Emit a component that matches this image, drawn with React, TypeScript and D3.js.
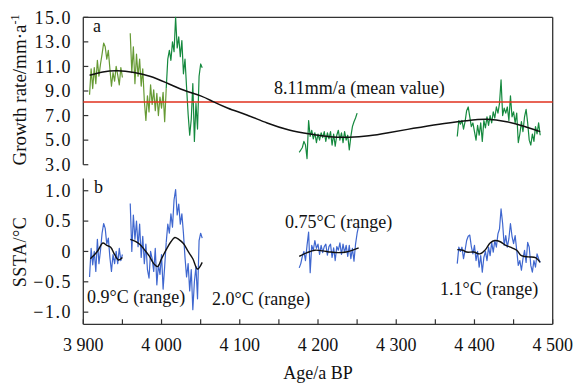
import React from "react";
import * as d3 from "d3";

// ---- data ----
const xTicks = [3900, 4000, 4100, 4200, 4300, 4400, 4500];
const xMinorTicks = [3950, 4050, 4150, 4250, 4350, 4450];
const growthTicks = [15, 13, 11, 9, 7, 5, 3];
const sstaTicks = [1.0, 0.5, 0, -0.5, -1.0];

const segStarts = [3908, 3960, 4006, 4176, 4378];
const segStep = 2;

const growth1 = [8.7, 10.8, 9.2, 10.9, 9.6, 11.5, 10.2, 11.2, 12.0, 12.9, 12.6, 11.6, 12.3, 10.8, 9.4, 10.5, 9.8, 11.0, 10.3, 9.5, 10.9, 10.1];
const growth2 = [13.7, 10.5, 12.6, 9.6, 12.0, 10.2, 11.6, 9.4, 10.8, 8.2, 6.6, 8.6, 7.3, 9.5, 7.9, 9.1, 7.4, 8.8, 7.0, 8.5, 7.6, 8.9, 6.5, 9.2];
const growth3 = [9.2, 11.6, 12.3, 11.5, 13.0, 12.2, 15.0, 12.5, 13.4, 11.8, 13.1, 10.4, 11.6, 9.3, 7.1, 5.4, 6.7, 9.6, 4.9, 8.0, 5.9, 10.2, 11.2, 10.9];
const growth4 = [4.0, 4.2, 4.4, 4.9, 4.6, 3.5, 6.6, 5.3, 5.8, 5.1, 5.6, 4.8, 5.5, 5.0, 5.6, 5.2, 5.7, 4.9, 5.6, 5.1, 5.7, 4.6, 5.5, 4.5, 5.4, 5.8, 5.0, 5.6, 4.8, 5.7, 5.0, 5.4, 4.2, 5.3, 6.1, 6.5, 6.8, 7.2];
const growth5 = [5.3, 6.6, 6.3, 6.6, 5.9, 6.5, 7.4, 7.7, 6.9, 6.1, 6.4, 5.7, 5.0, 6.2, 5.4, 6.4, 4.9, 6.6, 6.0, 6.9, 6.2, 7.0, 6.4, 7.3, 6.8, 7.7, 7.2, 8.0, 9.9, 7.0, 7.6, 7.2, 7.7, 6.6, 8.6, 6.9, 7.3, 6.4, 7.2, 4.8, 5.5, 6.5, 5.7, 6.9, 7.5, 6.4, 5.0, 4.6, 5.5, 4.9, 6.1, 5.5, 6.4, 5.4];

const ssta1 = [-0.42, 0.05, -0.22, 0.0, -0.33, 0.2, -0.2, 0.02, 0.3, 0.46, 0.38, 0.12, 0.22, -0.1, -0.33, -0.05, -0.2, 0.0, -0.2, 0.05, -0.15, -0.05];
const ssta2 = [0.79, 0.0, 0.6, 0.2, 0.5, 0.08, 0.45, -0.1, 0.25, -0.2, 0.12, -0.3, -0.44, 0.0, -0.12, -0.33, 0.05, -0.55, -0.22, -0.38, -0.05, -0.62, -0.25, 0.15];
const ssta3 = [0.15, 0.45, 0.3, 0.62, 0.4, 0.85, 1.02, 0.6, 0.78, 0.45, 0.62, 0.3, -0.1, -0.42, -0.2, -0.65, -0.3, -0.96, -0.5, -0.25, -0.78, 0.18, 0.3, 0.22];
const ssta4 = [-0.27, -0.2, -0.08, 0.0, -0.15, 0.1, 0.32, -0.35, 0.1, 0.02, 0.18, 0.05, 0.12, -0.05, 0.1, -0.02, 0.08, 0.12, -0.06, 0.08, 0.12, -0.1, 0.06, -0.15, 0.08, 0.02, 0.14, -0.05, 0.12, -0.02, 0.1, -0.08, 0.1, -0.12, 0.05, -0.16, 0.12, 0.3, 0.42];
const ssta5 = [-0.2, 0.07, 0.0, 0.07, -0.12, 0.02, 0.18, 0.25, 0.27, 0.08, -0.04, 0.1, -0.15, 0.0, -0.26, -0.07, -0.34, -0.1, 0.0, -0.15, 0.07, -0.07, 0.15, -0.01, 0.18, 0.07, 0.29, 0.37, 0.7, 0.46, 0.1, 0.26, 0.07, 0.21, 0.46, 0.25, 0.13, 0.26, 0.02, -0.23, -0.15, -0.31, -0.12, 0.02, -0.18, 0.15, 0.07, -0.23, -0.34, -0.15, -0.26, -0.04, -0.12, -0.18];

const growthTrendAges = [3908, 3925, 3944, 3965, 3985, 4005, 4028, 4050, 4066, 4085, 4109, 4135, 4163, 4190, 4215, 4240, 4265, 4290, 4322, 4355, 4390, 4416, 4441, 4462, 4484];
const growthTrendValues = [10.28, 10.55, 10.65, 10.5, 10.2, 9.7, 9.08, 8.6, 8.13, 7.6, 7.05, 6.4, 5.83, 5.5, 5.28, 5.23, 5.35, 5.6, 5.96, 6.3, 6.58, 6.7, 6.5, 6.15, 5.69];

const sstaTrend1Ages = [3909, 3914, 3919, 3925, 3930, 3935, 3940, 3945, 3950];
const sstaTrend1Values = [-0.12, -0.06, 0.02, 0.14, 0.1, 0.07, -0.05, -0.14, -0.1];
const sstaTrend2Ages = [3960, 3966, 3972, 3978, 3984, 3990, 3995, 4000, 4006, 4012, 4017, 4022, 4028, 4034, 4040, 4046, 4052];
const sstaTrend2Values = [0.2, 0.17, 0.12, 0.03, -0.07, -0.2, -0.25, -0.12, 0.03, 0.16, 0.23, 0.2, 0.13, 0.0, -0.12, -0.29, -0.18];
const sstaTrend3Ages = [4176, 4186, 4196, 4206, 4216, 4226, 4236, 4246, 4252];
const sstaTrend3Values = [-0.08, -0.02, 0.02, 0.01, -0.01, -0.02, -0.01, 0.03, 0.06];
const sstaTrend4Ages = [4378, 4385, 4390, 4399, 4407, 4414, 4420, 4426, 4433, 4440, 4446, 4454, 4460, 4469, 4478, 4484];
const sstaTrend4Values = [0.03, 0.02, -0.01, -0.01, -0.04, 0.03, 0.14, 0.18, 0.16, 0.1, 0.07, 0.02, -0.07, -0.09, -0.1, -0.18];

const meanGrowth = 8.11;

const growthSegs = [growth1, growth2, growth3, growth4, growth5];
const sstaSegs = [ssta1, ssta2, ssta3, ssta4, ssta5];
const OLIVE = "#669a34";
const GREEN = "#15893e";
const BLUE = "#3f67cf";
const growthColors = [OLIVE, OLIVE, GREEN, GREEN, GREEN];

// ---- layout ----
const W = 575;
const H = 385;
const left = 83.3;
const right = 552.7;
const top = 17.3;
const bottom = 324.3;
const FONT = "'Liberation Serif', 'Times New Roman', serif";
const AXIS = "#333";

export default function App() {
  const x = d3.scaleLinear().domain([3900, 4500]).range([left, right]);
  const yA = d3.scaleLinear().domain([3, 15]).range([164.7, top]);
  const yB = d3.scaleLinear().domain([-1.2, 1.2]).range([bottom, 178.6]);

  const segPoints = (seg: number[], i: number) =>
    seg.map((v, j) => [segStarts[i] + j * segStep, v] as [number, number]);

  const lineA = d3.line<[number, number]>().x((d) => x(d[0])).y((d) => yA(d[1]));
  const lineB = d3.line<[number, number]>().x((d) => x(d[0])).y((d) => yB(d[1]));
  const trendA = d3
    .line<[number, number]>()
    .x((d) => x(d[0]))
    .y((d) => yA(d[1]))
    .curve(d3.curveNatural);
  const trendB = d3
    .line<[number, number]>()
    .x((d) => x(d[0]))
    .y((d) => yB(d[1]))
    .curve(d3.curveCatmullRom);

  const zip = (a: number[], b: number[]) => a.map((v, i) => [v, b[i]] as [number, number]);
  const sstaTrends = [
    zip(sstaTrend1Ages, sstaTrend1Values),
    zip(sstaTrend2Ages, sstaTrend2Values),
    zip(sstaTrend3Ages, sstaTrend3Values),
    zip(sstaTrend4Ages, sstaTrend4Values),
  ];

  const textStyle = { fontFamily: FONT, fontSize: 18, fill: "#111" } as const;

  return (
    <svg
      width={W}
      height={H}
      style={{ position: "absolute", left: 0, top: 0, background: "#fff" }}
    >
      {/* frame */}
      <line x1={left} x2={right} y1={top} y2={top} stroke={AXIS} strokeWidth={1.3} />
      <line x1={right} x2={right} y1={top} y2={bottom} stroke={AXIS} strokeWidth={1.3} />
      <line x1={left} x2={right} y1={bottom} y2={bottom} stroke={AXIS} strokeWidth={1.3} />
      <line x1={left} x2={left} y1={top} y2={yA(3)} stroke={AXIS} strokeWidth={1.3} />
      <line x1={left} x2={left} y1={yB(1.2)} y2={bottom} stroke={AXIS} strokeWidth={1.3} />

      {/* y ticks panel a */}
      {growthTicks.map((t) => (
        <g key={"ga" + t}>
          <line x1={left} x2={left + 5} y1={yA(t)} y2={yA(t)} stroke={AXIS} strokeWidth={1.2} />
          <text x={72} y={yA(t)} dy="0.35em" textAnchor="end" style={{ ...textStyle, letterSpacing: 1.5 }}>
            {t.toFixed(1)}
          </text>
        </g>
      ))}
      {/* y ticks panel b */}
      {sstaTicks.map((t) => (
        <g key={"gb" + t}>
          <line x1={left} x2={left + 5} y1={yB(t)} y2={yB(t)} stroke={AXIS} strokeWidth={1.2} />
          <text x={72} y={yB(t)} dy="0.35em" textAnchor="end" style={{ ...textStyle, letterSpacing: 1.5 }}>
            {t === 0 ? "0" : t.toFixed(1).replace("-", "\u2212")}
          </text>
        </g>
      ))}
      {/* x ticks */}
      {xTicks.concat(xMinorTicks).map((t) => (
        <line key={"xt" + t} x1={x(t)} x2={x(t)} y1={bottom} y2={bottom - 5} stroke={AXIS} strokeWidth={1.2} />
      ))}
      {xTicks.map((t) => (
        <text key={"xl" + t} x={x(t)} y={351} textAnchor="middle" style={textStyle}>
          {d3.format(",")(t).replace(",", " ")}
        </text>
      ))}

      {/* axis titles */}
      <text x={318} y={379} textAnchor="middle" style={textStyle}>
        Age/a BP
      </text>
      <text
        transform={`translate(26,${90}) rotate(-90)`}
        textAnchor="middle"
        style={{ ...textStyle, fontSize: 19 }}
      >
        Growth rate/mm·a
        <tspan dy={-7} fontSize={12}>-1</tspan>
      </text>
      <text
        transform={`translate(26,${252}) rotate(-90)`}
        textAnchor="middle"
        style={{ ...textStyle, letterSpacing: 0.5 }}
      >
        SSTA/°C
      </text>

      {/* panel labels */}
      <text x={93} y={32} style={textStyle}>a</text>
      <text x={94} y={193} style={textStyle}>b</text>

      {/* panel a data */}
      {growthSegs.map((seg, i) => (
        <path
          key={"ga-seg" + i}
          d={lineA(segPoints(seg, i)) || ""}
          fill="none"
          stroke={growthColors[i]}
          strokeWidth={1.2}
          strokeLinejoin="round"
        />
      ))}
      <line x1={left} x2={right} y1={yA(meanGrowth)} y2={yA(meanGrowth)} stroke="#e0301e" strokeWidth={1.4} />
      <path
        d={trendA(zip(growthTrendAges, growthTrendValues)) || ""}
        fill="none"
        stroke="#111"
        strokeWidth={1.5}
      />
      <text x={274} y={94} style={textStyle}>
        8.11mm/a (mean value)
      </text>

      {/* panel b data */}
      {sstaSegs.map((seg, i) => (
        <path
          key={"gb-seg" + i}
          d={lineB(segPoints(seg, i)) || ""}
          fill="none"
          stroke={BLUE}
          strokeWidth={1.2}
          strokeLinejoin="round"
        />
      ))}
      {sstaTrends.map((tr, i) => (
        <path key={"tb" + i} d={trendB(tr) || ""} fill="none" stroke="#111" strokeWidth={1.4} />
      ))}
      <text x={87} y={303} style={textStyle}>0.9°C (range)</text>
      <text x={212} y={305} style={textStyle}>2.0°C (range)</text>
      <text x={285} y={228} style={textStyle}>0.75°C (range)</text>
      <text x={440} y={295} style={textStyle}>1.1°C (range)</text>
    </svg>
  );
}
